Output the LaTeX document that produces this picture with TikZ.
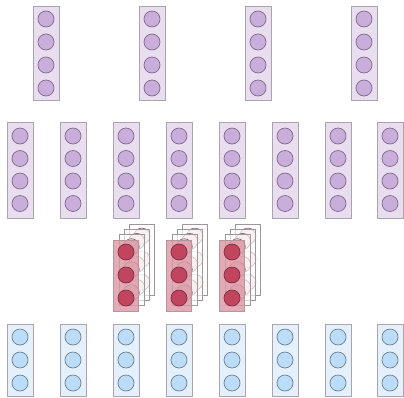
\documentclass[tikz,border=0pt]{standalone}
\begin{document}
\begin{tikzpicture}[x=1pt,y=-1pt,
  every node/.style={inner sep=0pt,outer sep=0pt},
  pbox/.style={rectangle,draw=boxedge,fill=pback,line width=0.7pt,minimum width=26pt},
  bbox/.style={rectangle,draw=boxedge,fill=bback,line width=0.7pt,minimum width=26pt,minimum height=72pt},
  rbox/.style={rectangle,draw=redboxedge,fill=rback,fill opacity=0.82,line width=0.7pt,minimum width=25pt,minimum height=71pt},
  lbox/.style={rectangle,draw=layeredge,fill=white,fill opacity=0.6,line width=0.6pt,minimum width=25pt,minimum height=71pt},
  pneu/.style={circle,draw=pedge,fill=pfill,line width=0.7pt,minimum size=16pt},
  bneu/.style={circle,draw=bedge,fill=bfill,line width=0.7pt,minimum size=16pt},
  rneu/.style={circle,draw=redge,fill=rfill,line width=0.7pt,minimum size=16pt},
  lneu/.style={circle,draw=lnedge,fill=lnfill,fill opacity=0.55,line width=0.6pt,minimum size=16pt}]
\definecolor{boxedge}{HTML}{ABA4AE}
\definecolor{pback}{HTML}{E9DEF0}
\definecolor{pfill}{HTML}{C9AEDB}
\definecolor{pedge}{HTML}{7E6988}
\definecolor{bback}{HTML}{E4F1FC}
\definecolor{bfill}{HTML}{BCDDF9}
\definecolor{bedge}{HTML}{6F7E8C}
\definecolor{rback}{HTML}{DC98A5}
\definecolor{redboxedge}{HTML}{B8959C}
\definecolor{rfill}{HTML}{C24560}
\definecolor{redge}{HTML}{7A3040}
\definecolor{layeredge}{HTML}{A09598}
\definecolor{lnedge}{HTML}{75646A}
\definecolor{lnfill}{HTML}{EBC4CC}
\useasboundingbox (0,0) rectangle (404,397);
% top row
\foreach \i/\x in {1/46,2/152,3/258,4/364}{
  \node[pbox,minimum height=94pt] (t\i) at (\x,53) {};
  \foreach \j/\y in {1/19,2/42,3/65,4/88}
    \node[pneu] (t\i-\j) at (\x,\y) {};
}
% middle row
\foreach \i/\x in {1/20,2/73,3/126,4/179,5/232,6/285,7/338,8/390}{
  \node[pbox,minimum height=96pt] (m\i) at (\x,170) {};
  \foreach \j/\y in {1/136,2/158.5,3/181,4/203.5}
    \node[pneu] (m\i-\j) at (\x,\y) {};
}
% bottom row
\foreach \i/\x in {1/20,2/73,3/126,4/179,5/232,6/285,7/338,8/390}{
  \node[bbox] (b\i) at (\x,360) {};
  \foreach \j/\y in {1/337,2/360,3/383}
    \node[bneu] (b\i-\j) at (\x,\y) {};
}
% red stacked groups
\foreach \g/\x in {1/126,2/179,3/232}{
  \foreach \k in {3,2,1}{
    \node[lbox] (r\g l\k) at ({\x+5.3*\k},{275.5-5.3*\k}) {};
    \foreach \j/\y in {1/252,2/275,3/298}
      \node[lneu] (r\g l\k-\j) at ({\x+5.3*\k},{\y-5.3*\k}) {};
  }
  \node[rbox] (r\g) at (\x,275.5) {};
  \foreach \j/\y in {1/252,2/275,3/298}
    \node[rneu] (r\g-\j) at (\x,\y) {};
}
\end{tikzpicture}
\end{document}
